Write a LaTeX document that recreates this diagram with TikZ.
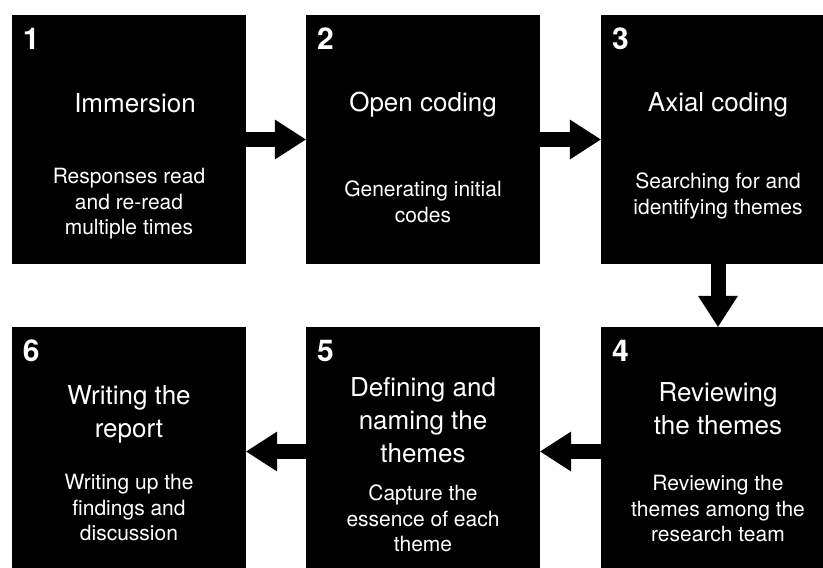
\documentclass[tikz,border=0pt]{standalone}
\usepackage{fontspec}
\setmainfont{TeX Gyre Heros}
\usetikzlibrary{arrows.meta}
\usetikzlibrary{positioning}

\begin{document}
\begin{tikzpicture}[
	x=1pt, y=-1pt,
	StepBox/.style={fill=black,draw=none,minimum width=234pt,minimum height=249pt,inner sep=0pt},
	StepNumber/.style={text=white,font=\bfseries\fontsize{30}{32}\selectfont,inner sep=0pt},
	StepTitle/.style={text=white,align=center,font=\fontsize{26}{33}\selectfont,inner sep=0pt},
	StepText/.style={text=white,align=center,font=\fontsize{21}{25.5}\selectfont,inner sep=0pt},
	FlowArrow/.style={line width=15pt,-{Triangle[length=31pt,width=40pt,line width=0pt]}}
	]
	\useasboundingbox (0,0) rectangle (823,568);
	\clip (0,0) rectangle (823,568);
	
	% the six black boxes
	\node[StepBox] (b1) at (129,139.5) {};
	\node[StepBox] (b2) at (423,139.5) {};
	\node[StepBox] (b3) at (718,139.5) {};
	\node[StepBox] (b4) at (718,451.5) {};
	\node[StepBox] (b5) at (423,451.5) {};
	\node[StepBox] (b6) at (129,451.5) {};
	
	% numbers
	\foreach \n in {1,...,6}
	{ \node[StepNumber, below right=13pt and 11pt of b\n.north west] (n\n) {\n};
	}
	
	% titles
	\node[StepTitle] (t1) at ([xshift=6pt,yshift=-88pt]b1.north) {Immersion};
	\node[StepTitle] (t2) at ([yshift=-90pt]b2.north) {Open coding};
	\node[StepTitle] (t3) at ([yshift=-90pt]b3.north) {Axial coding};
	\node[StepTitle] (t4) at ([yshift=-82pt]b4.north) {Reviewing\\the themes};
	\node[StepTitle] (t5) at ([yshift=-93pt]b5.north) {Defining and\\naming the\\themes};
	\node[StepTitle] (t6) at ([yshift=-88pt]b6.north) {Writing the\\report};
	
	% descriptions
	\node[StepText] (d1) at ([yshift=-189pt]b1.north) {Responses read\\and re-read\\multiple times};
	\node[StepText] (d2) at ([yshift=-187pt]b2.north) {Generating initial\\codes};
	\node[StepText] (d3) at ([yshift=-181pt]b3.north) {Searching for and\\identifying themes};
	\node[StepText] (d4) at ([yshift=-182pt]b4.north) {Reviewing the\\themes among the\\research team};
	\node[StepText] (d5) at ([yshift=-192pt]b5.north) {Capture the\\essence of each\\theme};
	\node[StepText] (d6) at ([yshift=-181pt]b6.north) {Writing up the\\findings and\\discussion};
	
	% arrows
	\draw[FlowArrow] (b1) -- (b2);
	\draw[FlowArrow] (b2) -- (b3);
	\draw[FlowArrow] (b3) -- (b4);
	\draw[FlowArrow] (b4) -- (b5);
	\draw[FlowArrow] (b5) -- (b6);
	
\end{tikzpicture}
\end{document}
